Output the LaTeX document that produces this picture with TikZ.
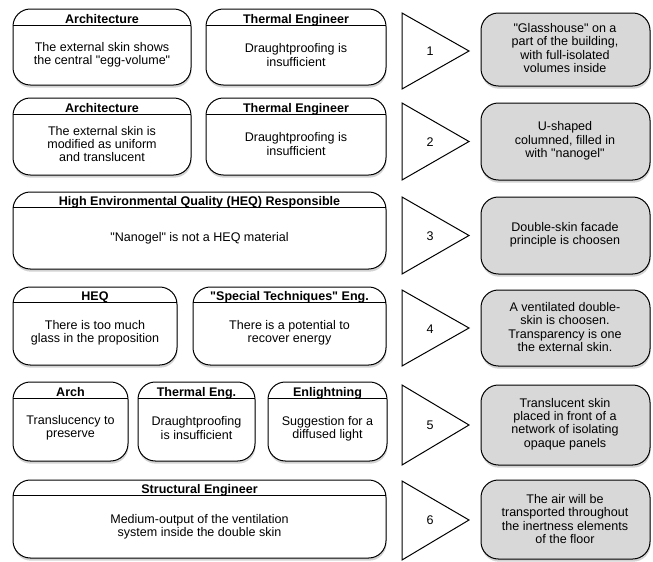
\documentclass[tikz,border=0pt]{standalone}
\usepackage{fontspec}
\setmainfont{Liberation Sans}[Ligatures=TeXOff]
\usetikzlibrary{shadows}

\definecolor{paleGrey}{RGB}{216,216,216}

\tikzset{every picture/.style={line width=0.75pt}}
\tikzset{
  card/.style={draw, fill=white, rounded corners=13pt,
    drop shadow={shadow xshift=0.4pt, shadow yshift=-2pt, opacity=0.35}},
  outcome/.style={draw, fill=paleGrey, rounded corners=13pt,
    drop shadow={shadow xshift=0.4pt, shadow yshift=-2pt, opacity=0.35}},
  pointer/.style={draw, fill=white, line join=miter},
  head/.style={anchor=base, inner sep=0.75pt, font=\bfseries\fontsize{9.4}{10}\selectfont},
  body/.style={inner sep=0.75pt, align=center, font=\fontsize{9.4}{10}\selectfont},
}

\begin{document}
\begin{tikzpicture}[x=0.75pt,y=0.75pt,yscale=-1,xscale=1]
\useasboundingbox (0,0) rectangle (653,561);

%Row 1
%Rounded Rect
\draw [card] (13,9) rectangle (191,85) ;
\draw (13,25) -- (191,25) ;
\node [head] (archA) at (102,23) {Architecture};
\node [body] (archAtxt) at (102,55) {The external skin shows\\the central "egg-volume"};
%Rounded Rect
\draw [card] (206,9) rectangle (386,85) ;
\draw (206,25) -- (386,25) ;
\node [head] (thermA) at (296,23) {Thermal Engineer};
\node [body] (thermAtxt) at (296,55) {Draughtproofing is\\insufficient};
%Triangle
\draw [pointer] (402,13) -- (469,51) -- (402,89) -- cycle ;
\node [body] (stepA) at (430,51) {1};
%Rounded Rect
\draw [outcome] (481,13) rectangle (650,86) ;
\node [body] (resA) at (565,48) {"Glasshouse" on a\\part of the building,\\with full-isolated\\volumes inside};

%Row 2
\draw [card] (13,98) rectangle (191,175) ;
\draw (13,114) -- (191,114) ;
\node [head] (archB) at (102,112) {Architecture};
\node [body] (archBtxt) at (102,144) {The external skin is\\modified as uniform\\and translucent};
\draw [card] (206,98) rectangle (386,175) ;
\draw (206,114) -- (386,114) ;
\node [head] (thermB) at (296,112) {Thermal Engineer};
\node [body] (thermBtxt) at (296,144) {Draughtproofing is\\insufficient};
\draw [pointer] (402,103) -- (469,141.5) -- (402,180) -- cycle ;
\node [body] (stepB) at (430,142) {2};
\draw [outcome] (481,103) rectangle (650,180) ;
\node [body] (resB) at (565,141) {U-shaped\\columned, filled in\\with "nanogel"};

%Row 3
\draw [card] (13,192) rectangle (386,269) ;
\draw (13,207) -- (386,207) ;
\node [head] (heqC) at (199.5,205) {High Environmental Quality (HEQ) Responsible};
\node [body] (heqCtxt) at (199.5,238) {"Nanogel" is not a HEQ material};
\draw [pointer] (402,197) -- (469,235.5) -- (402,274) -- cycle ;
\node [body] (stepC) at (430,236) {3};
\draw [outcome] (481,197) rectangle (650,274) ;
\node [body] (resC) at (565,235) {Double-skin facade\\principle is choosen};

%Row 4
\draw [card] (13,287) rectangle (177,365) ;
\draw (13,302) -- (177,302) ;
\node [head] (heqD) at (95,300) {HEQ};
\node [body] (heqDtxt) at (95,333) {There is too much\\glass in the proposition};
\draw [card] (193,287) rectangle (386,365) ;
\draw (193,302) -- (386,302) ;
\node [head] (specD) at (289.5,300) {"Special Techniques" Eng.};
\node [body] (specDtxt) at (289.5,333) {There is a potential to\\recover energy};
\draw [pointer] (402,290) -- (469,328) -- (402,366) -- cycle ;
\node [body] (stepD) at (430,329) {4};
\draw [outcome] (481,290) rectangle (650,366) ;
\node [body] (resD) at (565,327) {A ventilated double-\\skin is choosen.\\Transparency is one\\the external skin.};

%Row 5
\draw [card] (13,382) rectangle (128,461) ;
\draw (13,398) -- (128,398) ;
\node [head] (archE) at (70.5,396) {Arch};
\node [body] (archEtxt) at (70.5,428) {Translucency to\\preserve};
\draw [card] (138,382) rectangle (255,461) ;
\draw (138,398) -- (255,398) ;
\node [head] (thermE) at (196.5,396) {Thermal Eng.};
\node [body] (thermEtxt) at (196.5,428) {Draughtproofing\\is insufficient};
\draw [card] (268,382) rectangle (387,461) ;
\draw (268,398) -- (387,398) ;
\node [head] (lightE) at (327.5,396) {Enlightning};
\node [body] (lightEtxt) at (327.5,429) {Suggestion for a\\diffused light};
\draw [pointer] (402,385) -- (469,425) -- (402,465) -- cycle ;
\node [body] (stepE) at (430,425) {5};
\draw [outcome] (481,385) rectangle (650,465) ;
\node [body] (resE) at (565,424) {Translucent skin\\placed in front of a\\network of isolating\\opaque panels};

%Row 6
\draw [card] (13,480) rectangle (386,558) ;
\draw (13,495) -- (386,495) ;
\node [head] (strucF) at (199.5,493) {Structural Engineer};
\node [body] (strucFtxt) at (199.5,527) {Medium-output of the ventilation\\system inside the double skin};
\draw [pointer] (402,481) -- (469,520) -- (402,560) -- cycle ;
\node [body] (stepF) at (430,520) {6};
\draw [outcome] (481,480) rectangle (650,559) ;
\node [body] (resF) at (565,519) {The air will be\\transported throughout\\the inertness elements\\of the floor};

\end{tikzpicture}
\end{document}
